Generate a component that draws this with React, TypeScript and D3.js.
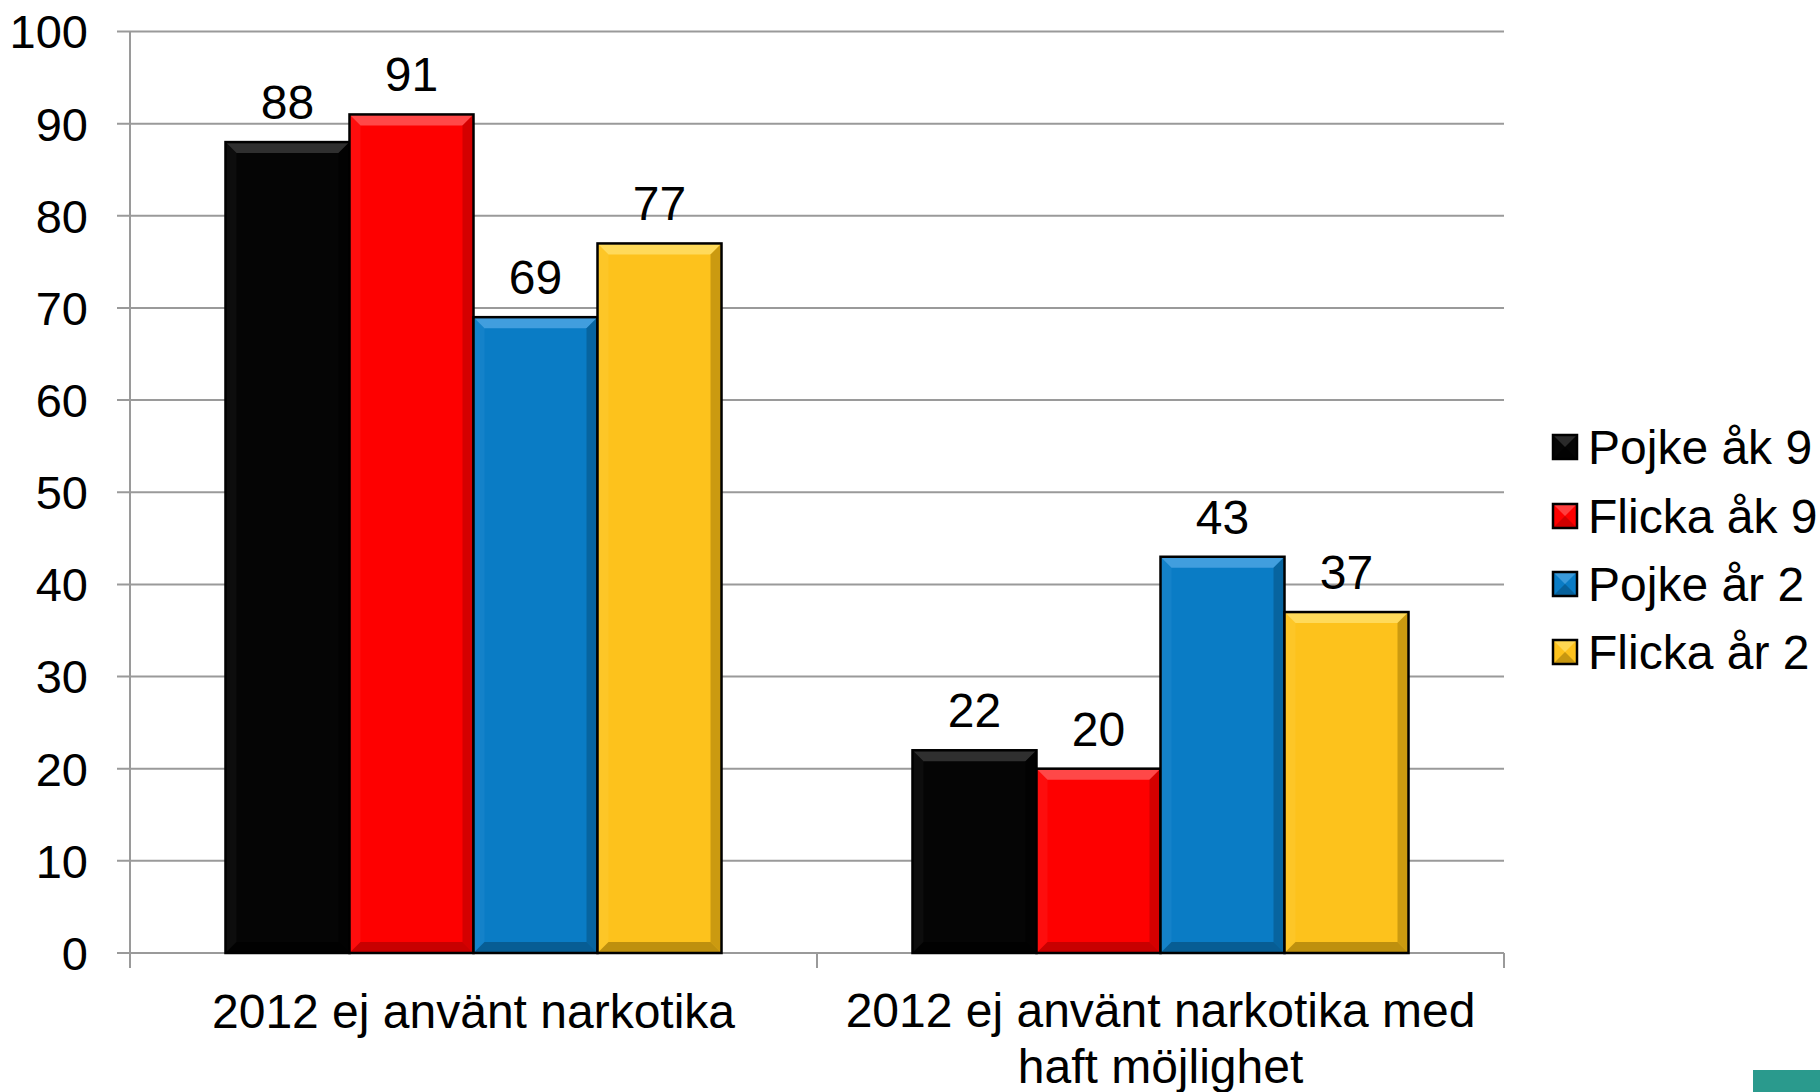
import React from "react";
import * as d3 from "d3";

const categories = ["2012 ej använt narkotika", "2012 ej använt narkotika med haft möjlighet"];
const seriesNames = ["Pojke åk 9", "Flicka åk 9", "Pojke år 2", "Flicka år 2"];
const pojkeAk9 = [88, 22];
const flickaAk9 = [91, 20];
const pojkeAr2 = [69, 43];
const flickaAr2 = [77, 37];
const seriesValues = [pojkeAk9, flickaAk9, pojkeAr2, flickaAr2];
const yTicks = [0, 10, 20, 30, 40, 50, 60, 70, 80, 90, 100];

const colors = ["#050505", "#fe0000", "#0a7cc5", "#fdc21c"];
const lightColors = ["#3a3a3a", "#ff5a5a", "#4fa6e3", "#ffe06a"];
const darkColors = ["#000000", "#b00000", "#05507f", "#a37a08"];

const W = 1820;
const H = 1092;
const FONT = "'Liberation Sans', Arial, sans-serif";
const FS = 48;

export default function App() {
  const x0 = d3.scaleBand<string>().domain(categories).range([130, 1504]).paddingInner(0).paddingOuter(0);
  const x1 = d3
    .scaleBand<string>()
    .domain(seriesNames)
    .range([0, x0.bandwidth()])
    .paddingInner(0)
    .paddingOuter(0.77);
  const y = d3.scaleLinear().domain([0, 100]).range([953, 31.5]);
  const b = 11;

  const bars: React.ReactNode[] = [];
  const labels: React.ReactNode[] = [];
  categories.forEach((c, ci) => {
    seriesNames.forEach((s, si) => {
      const v = seriesValues[si][ci];
      const bx = (x0(c) as number) + (x1(s) as number);
      const bw = x1.bandwidth();
      const by = y(v);
      const bh = y(0) - by;
      const key = `${ci}-${si}`;
      bars.push(
        <g key={key}>
          <rect x={bx} y={by} width={bw} height={bh} fill={colors[si]} />
          <polygon
            points={`${bx},${by} ${bx + bw},${by} ${bx + bw - b},${by + b} ${bx + b},${by + b}`}
            fill={lightColors[si]}
            opacity={0.8}
          />
          <polygon
            points={`${bx},${by} ${bx + b},${by + b} ${bx + b},${by + bh - b} ${bx},${by + bh}`}
            fill={lightColors[si]}
            opacity={0.15}
          />
          <polygon
            points={`${bx + bw},${by} ${bx + bw},${by + bh} ${bx + bw - b},${by + bh - b} ${bx + bw - b},${by + b}`}
            fill={darkColors[si]}
            opacity={0.55}
          />
          <polygon
            points={`${bx},${by + bh} ${bx + bw},${by + bh} ${bx + bw - b},${by + bh - b} ${bx + b},${by + bh - b}`}
            fill={darkColors[si]}
            opacity={0.7}
          />
          <rect x={bx} y={by} width={bw} height={bh} fill="none" stroke="#000" strokeWidth={2.5} />
        </g>
      );
      labels.push(
        <text
          key={"l" + key}
          x={bx + bw / 2}
          y={by - 23}
          textAnchor="middle"
          fontSize={FS}
          fontFamily={FONT}
          fill="#000"
        >
          {v}
        </text>
      );
    });
  });

  const legendCenters = [447, 516, 584, 652];

  return (
    <svg
      width={W}
      height={H}
      style={{ position: "fixed", left: 0, top: 0, background: "#fff" }}
      xmlns="http://www.w3.org/2000/svg"
    >
      <rect x={0} y={0} width={W} height={H} fill="#fff" />
      {yTicks.map((t) => (
        <g key={"g" + t}>
          <line x1={117} x2={1504} y1={y(t)} y2={y(t)} stroke="#9a9a9a" strokeWidth={2} />
          <text
            x={88}
            y={y(t)}
            dy="0.36em"
            textAnchor="end"
            fontSize={47}
            fontFamily={FONT}
            fill="#000"
          >
            {t}
          </text>
        </g>
      ))}
      <line x1={130} x2={130} y1={y(100)} y2={968} stroke="#9a9a9a" strokeWidth={2} />
      {[130, 130 + x0.bandwidth(), 1504].map((tx, i) => (
        <line key={"xt" + i} x1={tx} x2={tx} y1={y(0)} y2={968} stroke="#9a9a9a" strokeWidth={2} />
      ))}
      {bars}
      {labels}
      <text
        x={(x0(categories[0]) as number) + x0.bandwidth() / 2}
        y={1028}
        textAnchor="middle"
        fontSize={FS}
        fontFamily={FONT}
        fill="#000"
      >
        {categories[0]}
      </text>
      {(() => {
        const cx = (x0(categories[1]) as number) + x0.bandwidth() / 2;
        return (
          <g>
            <text x={cx} y={1027} textAnchor="middle" fontSize={FS} fontFamily={FONT} fill="#000">
              2012 ej använt narkotika med
            </text>
            <text x={cx} y={1083} textAnchor="middle" fontSize={FS} fontFamily={FONT} fill="#000">
              haft möjlighet
            </text>
          </g>
        );
      })()}
      {seriesNames.map((s, i) => {
        const cy = legendCenters[i];
        const sx = 1553;
        const ss = 24;
        const sy = cy - ss / 2;
        return (
          <g key={"lg" + i}>
            <rect x={sx} y={sy} width={ss} height={ss} fill={colors[i]} />
            <polygon
              points={`${sx},${sy} ${sx + ss},${sy} ${sx + ss / 2},${sy + ss / 2}`}
              fill={lightColors[i]}
              opacity={0.7}
            />
            <polygon
              points={`${sx},${sy + ss} ${sx + ss},${sy + ss} ${sx + ss / 2},${sy + ss / 2}`}
              fill={darkColors[i]}
              opacity={0.6}
            />
            <rect x={sx} y={sy} width={ss} height={ss} fill="none" stroke="#000" strokeWidth={2.5} />
            <text x={1588} y={cy + 17} fontSize={FS} fontFamily={FONT} fill="#000">
              {s}
            </text>
          </g>
        );
      })}
      <rect x={1753} y={1070} width={67} height={22} fill="#2a9a8d" />
    </svg>
  );
}
